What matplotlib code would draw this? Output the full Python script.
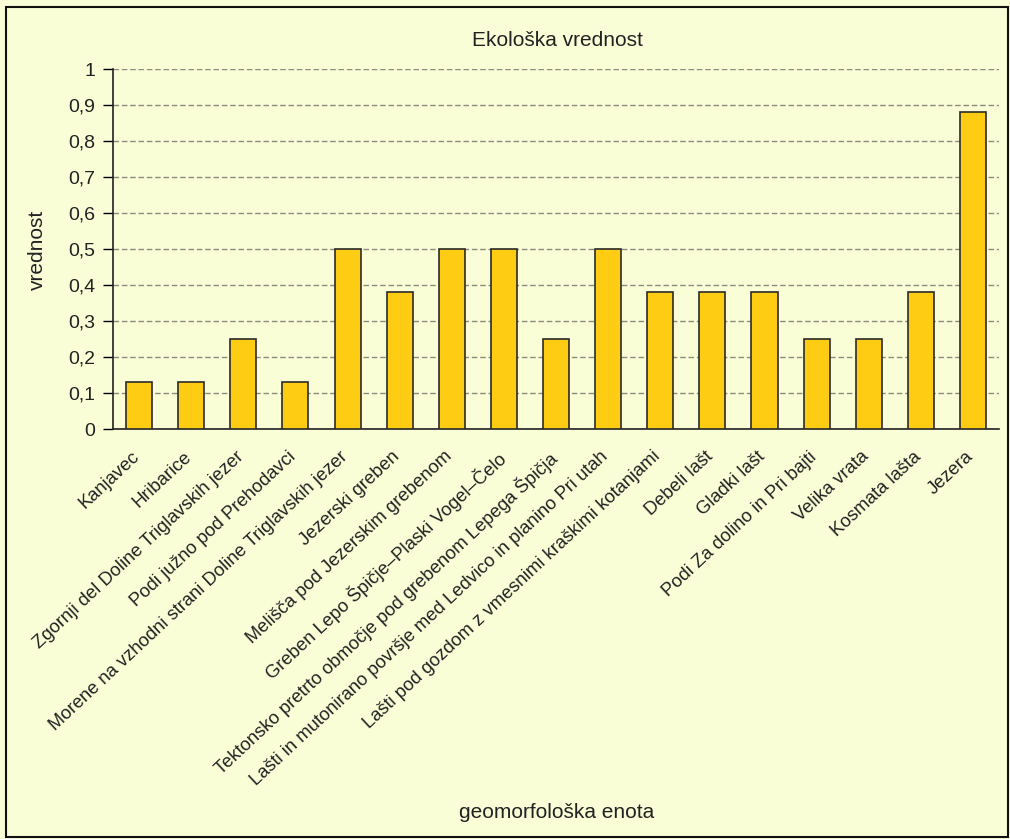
import matplotlib.pyplot as plt
from matplotlib.patches import Rectangle
from matplotlib.ticker import FuncFormatter
from matplotlib.transforms import ScaledTranslation
import numpy as np

enote = [
    "Kanjavec",
    "Hribarice",
    "Zgornji del Doline Triglavskih jezer",
    "Podi južno pod Prehodavci",
    "Morene na vzhodni strani Doline Triglavskih jezer",
    "Jezerski greben",
    "Melišča pod Jezerskim grebenom",
    "Greben Lepo Špičje–Plaski Vogel–Čelo",
    "Tektonsko pretrto območje pod grebenom Lepega Špičja",
    "Lašti in mutonirano površje med Ledvico in planino Pri utah",
    "Lašti pod gozdom z vmesnimi kraškimi kotanjami",
    "Debeli lašt",
    "Gladki lašt",
    "Podi Za dolino in Pri bajti",
    "Velika vrata",
    "Kosmata lašta",
    "Jezera",
]
vrednost = [0.13, 0.13, 0.25, 0.13, 0.5, 0.38, 0.5, 0.5, 0.25, 0.5,
            0.38, 0.38, 0.38, 0.25, 0.25, 0.38, 0.88]
yticks = [0, 0.1, 0.2, 0.3, 0.4, 0.5, 0.6, 0.7, 0.8, 0.9, 1.0]

bg = '#FAFED7'
txt = '#222222'
plt.rcParams['font.family'] = ['Liberation Sans', 'DejaVu Sans']

fig = plt.figure(figsize=(10.1, 8.39), dpi=100, facecolor=bg)
ax = fig.add_axes([113 / 1010, 1 - 429 / 839, 886 / 1010, 360 / 839])
ax.set_facecolor(bg)

x = np.arange(len(enote))
ax.bar(x, vrednost, width=0.5, color='#FFCC14', edgecolor='#2b2b2b',
       linewidth=1.2, zorder=3)

ax.set_xlim(-0.5, len(enote) - 0.5)
ax.set_ylim(0, 1)
ax.set_yticks(yticks)
ax.yaxis.set_major_formatter(FuncFormatter(
    lambda v, p: ('%g' % round(v, 1)).replace('.', ',')))
ax.grid(axis='y', linestyle=(0, (4, 2)), color='#8c8c7c', linewidth=1, zorder=0)

ax.set_xticks(x)
ax.set_xticklabels(enote, rotation=43, ha='right', va='top',
                   rotation_mode='anchor', fontsize=13.2, color=txt)
ax.tick_params(axis='x', length=0, pad=8)
ax.tick_params(axis='y', length=7, width=1, labelsize=14, labelcolor=txt, pad=6)
# move category labels a bit left and down, as in the original
shift = ScaledTranslation(-0.08, -0.08, fig.dpi_scale_trans)
for lab in ax.get_xticklabels():
    lab.set_transform(lab.get_transform() + shift)

for s in ['top', 'right']:
    ax.spines[s].set_visible(False)
for s in ['left', 'bottom']:
    ax.spines[s].set_color('#222222')
    ax.spines[s].set_linewidth(1.2)

fig.text(557 / 1010, 1 - 40 / 839, 'Ekološka vrednost', ha='center',
         va='center', fontsize=15, color=txt)
fig.text(37 / 1010, 1 - 250 / 839, 'vrednost', ha='center', va='center',
         rotation=90, fontsize=15, color=txt)
fig.text(557 / 1010, 1 - 812 / 839, 'geomorfološka enota', ha='center',
         va='center', fontsize=15, color=txt)

fig.patches.append(Rectangle((6 / 1010, 2 / 839), 1002 / 1010, 830 / 839,
                             transform=fig.transFigure, fill=False,
                             edgecolor='#111111', linewidth=1.5))

fig.savefig('out.png', dpi=100, facecolor=bg)
